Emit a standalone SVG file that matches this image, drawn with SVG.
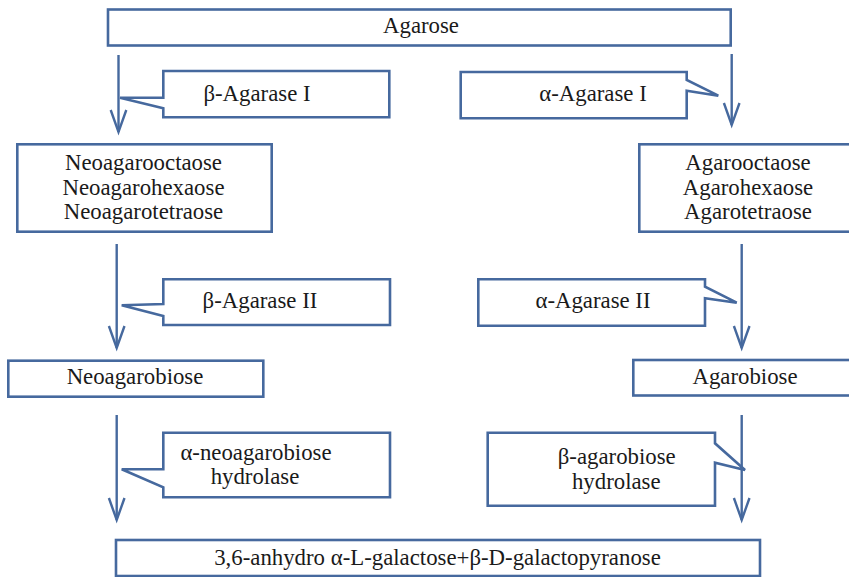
<svg xmlns="http://www.w3.org/2000/svg" width="849" height="577" viewBox="0 0 849 577">
<style>
.b{fill:#fff;stroke:#46699e;stroke-width:2.6}
.c{fill:none;stroke:#46699e;stroke-width:2.4}
.t{font-family:"Liberation Serif","Times New Roman",serif;font-size:22.8px;fill:#1a1a1a;text-anchor:middle}
</style>
<defs>
<marker id="ah" markerUnits="userSpaceOnUse" markerWidth="30" markerHeight="24" viewBox="-25 -12 30 24" refX="0" refY="0" orient="auto">
<path d="M-22,-7.8 L0,0 L-22,7.8" fill="none" stroke="#46699e" stroke-width="2.4"/>
</marker>
</defs>
<rect width="849" height="577" fill="#fff"/>
<g id="connectors">
<line class="c" x1="118.5" y1="55" x2="118.5" y2="132" marker-end="url(#ah)"/>
<line class="c" x1="731.7" y1="54" x2="731.7" y2="125" marker-end="url(#ah)"/>
<line class="c" x1="116.7" y1="244" x2="116.7" y2="348" marker-end="url(#ah)"/>
<line class="c" x1="741.7" y1="244" x2="741.7" y2="348" marker-end="url(#ah)"/>
<line class="c" x1="116.7" y1="415" x2="116.7" y2="520" marker-end="url(#ah)"/>
<line class="c" x1="741.7" y1="415" x2="741.7" y2="520" marker-end="url(#ah)"/>
</g>
<g id="agarose">
<rect class="b" x="108" y="9.5" width="622.7" height="36"/>
<text class="t" x="421" y="33">Agarose</text>
</g>
<g id="beta-agarase-1">
<path class="b" d="M163.3,71 H389.3 V117.3 H163.3 V108.3 L120,97.7 L163.3,97.7 Z"/>
<text class="t" x="257" y="100.5">β-Agarase I</text>
</g>
<g id="alpha-agarase-1">
<path class="b" d="M460.7,72 H686.7 V80 L718.3,95.7 L686.7,90.7 V118.3 H460.7 Z"/>
<text class="t" x="593" y="100.7">α-Agarase I</text>
</g>
<g id="neoagaro-oligos">
<rect class="b" x="17.3" y="144.3" width="254.4" height="87.4"/>
<text class="t" x="143.5" y="170">Neoagarooctaose</text>
<text class="t" x="143.5" y="194.5">Neoagarohexaose</text>
<text class="t" x="143.5" y="219">Neoagarotetraose</text>
</g>
<g id="agaro-oligos">
<rect class="b" x="639.3" y="144.3" width="215" height="87.4"/>
<text class="t" x="748" y="170">Agarooctaose</text>
<text class="t" x="748" y="194.5">Agarohexaose</text>
<text class="t" x="748" y="219">Agarotetraose</text>
</g>
<g id="beta-agarase-2">
<path class="b" d="M163.3,279.3 H390 V325 H163.3 V316 L121.7,305.3 L163.3,304 Z"/>
<text class="t" x="260" y="307.5">β-Agarase II</text>
</g>
<g id="alpha-agarase-2">
<path class="b" d="M478.3,279.3 H705 V286.7 L736.7,302.7 L705,298.3 V325.7 H478.3 Z"/>
<text class="t" x="593" y="307.5">α-Agarase II</text>
</g>
<g id="neoagarobiose">
<rect class="b" x="8.3" y="360.7" width="255" height="36"/>
<text class="t" x="135" y="384">Neoagarobiose</text>
</g>
<g id="agarobiose">
<rect class="b" x="633.3" y="360" width="222" height="35.5"/>
<text class="t" x="745" y="383.5">Agarobiose</text>
</g>
<g id="alpha-neoagarobiose-hydrolase">
<path class="b" d="M163.3,432.7 H390 V497.3 H163.3 V487.3 L121.7,469.3 L163.3,469.3 Z"/>
<text class="t" x="256" y="459.5">α-neoagarobiose</text>
<text class="t" x="255" y="484">hydrolase</text>
</g>
<g id="beta-agarobiose-hydrolase">
<path class="b" d="M487.7,432.7 H715 V443.3 L745,470 L715,462.7 V505.7 H487.7 Z"/>
<text class="t" x="616.7" y="463.5">β-agarobiose</text>
<text class="t" x="616.3" y="488.5">hydrolase</text>
</g>
<g id="products">
<rect class="b" x="116" y="540" width="644" height="36"/>
<text class="t" x="437.5" y="565">3,6-anhydro α-L-galactose+β-D-galactopyranose</text>
</g>
</svg>
